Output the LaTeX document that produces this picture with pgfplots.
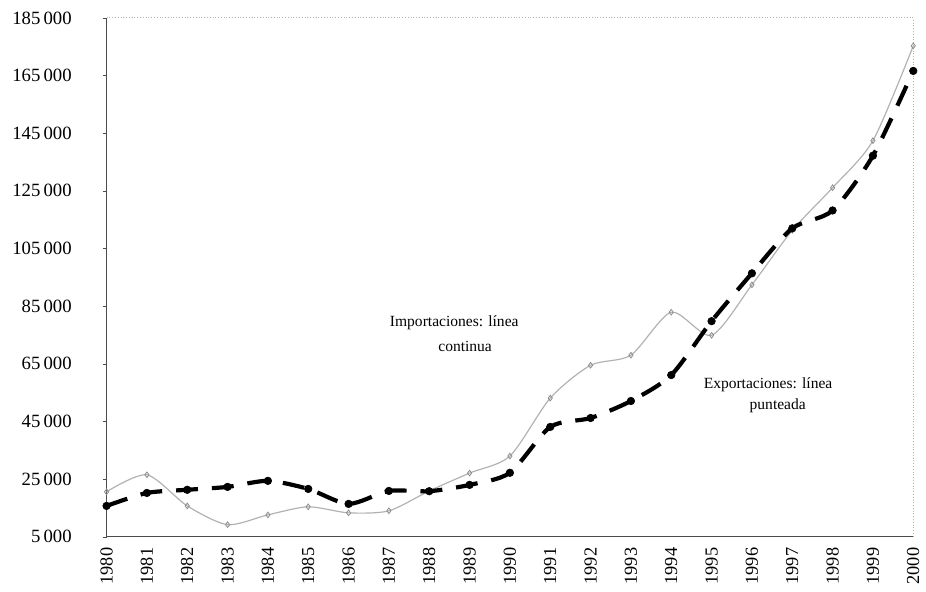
\documentclass[border=0pt]{standalone}
\usepackage{pgfplots}
\pgfplotsset{compat=1.18}
\usepackage{fontspec}
\setmainfont{Liberation Serif}
\begin{document}
\begin{tikzpicture}[x=1pt,y=1pt]
\begin{axis}[
  scale only axis,
  width=405pt, height=260.5pt,
  xmin=1980, xmax=2000, ymin=5000, ymax=185000,
  scaled y ticks=false, scaled x ticks=false,
  xtick={1980,...,2000},
  xticklabels={1980,1981,1982,1983,1984,1985,1986,1987,1988,1989,1990,1991,1992,1993,1994,1995,1996,1997,1998,1999,2000},
  ytick={5000,25000,45000,65000,85000,105000,125000,145000,165000,185000},
  yticklabels={5\,000,25\,000,45\,000,65\,000,85\,000,105\,000,125\,000,145\,000,165\,000,185\,000},
  xticklabel style={rotate=90, anchor=east, font=\fontsize{9.2}{10}\selectfont},
  yticklabel style={font=\fontsize{9.4}{10}\selectfont, xshift=-12pt},
  axis x line*=bottom, axis y line*=left,
  x axis line style={black!70, -},
  y axis line style={black!70, -},
  tick align=outside,
  major tick length=2pt,
  xtick style={draw=none},
  ytick style={black!70},
  clip=false,
]
\addplot[gray!60, line width=0.6pt, smooth, tension=0.45, mark=diamond, mark size=1.4pt, mark options={solid, gray!90, fill=white, line width=0.4pt}] coordinates {
(1980,20600) (1981,26500) (1982,15700) (1983,9200) (1984,12600) (1985,15400)
(1986,13300) (1987,14000) (1988,20900) (1989,27100) (1990,33000) (1991,53100)
(1992,64500) (1993,68000) (1994,82900) (1995,74900) (1996,92400) (1997,111300)
(1998,126100) (1999,142400) (2000,175300)};
\addplot[black, line width=2.1pt, smooth, tension=0.45, dash pattern=on 11pt off 7pt, mark=*, mark size=1.9pt, mark options={solid, fill=black, line width=0.3pt}] coordinates {
(1980,15700) (1981,20200) (1982,21300) (1983,22300) (1984,24400) (1985,21600)
(1986,16400) (1987,20900) (1988,20800) (1989,23000) (1990,27200) (1991,43100)
(1992,46200) (1993,52100) (1994,61100) (1995,79800) (1996,96400) (1997,112000)
(1998,118200) (1999,137200) (2000,166600)};
\draw[gray!60, densely dotted] (rel axis cs:0,1) -- (rel axis cs:1,1) -- (rel axis cs:1,0);
\node[font=\fontsize{7.8}{9}\selectfont] at (axis cs:1988.62,79100) {Importaciones: línea};
\node[font=\fontsize{7.8}{9}\selectfont] at (axis cs:1988.89,71100) {continua};
\node[font=\fontsize{7.8}{9}\selectfont] at (axis cs:1996.40,57600) {Exportaciones: línea};
\node[font=\fontsize{7.8}{9}\selectfont] at (axis cs:1996.64,50350) {punteada};
\path (rel axis cs:-0.1321,-0.0998) rectangle (rel axis cs:1.0111,1.0345);
\end{axis}
\end{tikzpicture}
\end{document}
